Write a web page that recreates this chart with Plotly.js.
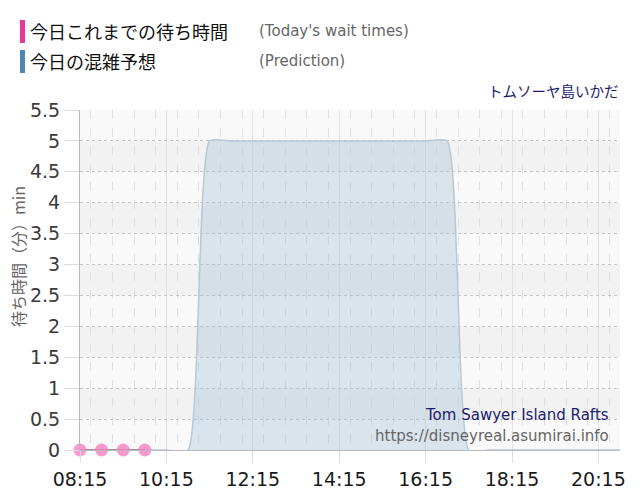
<!DOCTYPE html>
<html>
<head>
<meta charset="utf-8">
<script src="https://cdn.plot.ly/plotly-3.0.1.min.js"></script>
<style>
  html, body { margin: 0; padding: 0; background: #fff; }
  #graph { width: 640px; height: 500px; }
</style>
</head>
<body>
<div id="graph"></div>
<script>
'use strict';

// Data
var day = '2024-01-01 ';
var todayTimes = ['08:15', '08:45', '09:15', '09:45'];
var todayWait = [0, 0, 0, 0];

var predTimes = ['08:15', '08:45', '09:15', '09:45', '10:15', '10:45', '11:15', '11:45',
  '12:15', '12:45', '13:15', '13:45', '14:15', '14:45', '15:15', '15:45', '16:15', '16:45',
  '17:15', '17:45', '18:15', '18:45', '19:15', '19:45', '20:15', '20:45'];
var predWait = [0, 0, 0, 0, 0, 0, 5, 5,
  5, 5, 5, 5, 5, 5, 5, 5, 5, 5,
  0, 0, 0, 0, 0, 0, 0, 0];

var yTicks = [0, 0.5, 1, 1.5, 2, 2.5, 3, 3.5, 4, 4.5, 5, 5.5];

var legendJa = ['今日これまでの待ち時間', '今日の混雑予想'];
var legendEn = ["(Today's wait times)", '(Prediction)'];
var attractionJa = 'トムソーヤ島いかだ';
var attractionEn = 'Tom Sawyer Island Rafts';
var siteUrl = 'https://disneyreal.asumirai.info';
var yTitle = '待ち時間（分）min';

var graph = document.getElementById('graph');

// plot area in pixels
var M = {l: 80, r: 20, t: 110, b: 50};
var W = 640, H = 500;
var pw = W - M.l - M.r, ph = H - M.t - M.b;
function px(x) { return (x - M.l) / pw; }
function py(y) { return (H - M.b - y) / ph; }

function toDates(list) {
  return list.map(function (t) { return day + t; });
}

var jaFont = 'Noto Sans CJK JP, DejaVu Sans, sans-serif';
var enFont = 'DejaVu Sans, Noto Sans CJK JP, sans-serif';

var data = [
  {
    type: 'scatter',
    mode: 'lines',
    x: toDates(predTimes),
    y: predWait,
    line: {shape: 'spline', smoothing: 0.5, color: '#b7c8d6', width: 1.5},
    fill: 'tozeroy',
    fillcolor: 'rgba(150,185,210,0.32)',
    hoverinfo: 'x+y'
  },
  {
    type: 'scatter',
    mode: 'lines+markers',
    x: toDates(todayTimes),
    y: todayWait,
    line: {color: '#a08a96', width: 2},
    marker: {size: 13, color: 'rgba(246,120,188,0.75)'},
    cliponaxis: false,
    hoverinfo: 'x+y'
  }
];

// alternating horizontal bands
var shapes = [];
for (var i = 1; i < yTicks.length - 1; i += 2) {
  shapes.push({
    type: 'rect', layer: 'below', xref: 'paper', yref: 'y',
    x0: 0, x1: 1, y0: yTicks[i], y1: yTicks[i + 1],
    fillcolor: '#f2f2f2', line: {width: 0}
  });
}
// legend colour bars
shapes.push({
  type: 'rect', xref: 'paper', yref: 'paper',
  x0: px(20), x1: px(25), y0: py(43), y1: py(20),
  fillcolor: '#e8389a', line: {width: 0}
});
shapes.push({
  type: 'rect', xref: 'paper', yref: 'paper',
  x0: px(20), x1: px(25), y0: py(73), y1: py(50),
  fillcolor: '#4f86b8', line: {width: 0}
});

function note(text, x, y, xanchor, size, color, family, angle) {
  return {
    text: text, xref: 'paper', yref: 'paper', x: px(x), y: py(y),
    xanchor: xanchor, yanchor: 'middle', showarrow: false,
    textangle: angle || 0,
    font: {size: size, color: color, family: family}
  };
}

var annotations = [
  note(legendJa[0], 28, 31, 'left', 18, '#111', jaFont),
  note(legendJa[1], 28, 61, 'left', 18, '#111', jaFont),
  note(legendEn[0], 257, 31, 'left', 15, '#666', enFont),
  note(legendEn[1], 257, 61, 'left', 15, '#666', enFont),
  note(attractionJa, 621, 90, 'right', 14.5, '#1c1c6e', jaFont),
  note(attractionEn, 611, 415, 'right', 15, '#1c1c6e', enFont),
  note(siteUrl, 611, 436, 'right', 15, '#666', enFont),
  note(yTitle, 18, 257, 'center', 16, '#666', jaFont, -90)
];

var layout = {
  width: W,
  height: H,
  margin: M,
  showlegend: false,
  paper_bgcolor: '#ffffff',
  plot_bgcolor: '#f9f9f9',
  font: {family: enFont},
  hovermode: 'closest',
  xaxis: {
    type: 'date',
    range: [day + predTimes[0], day + predTimes[predTimes.length - 1]],
    tick0: day + '08:15',
    dtick: 7200000,
    tickformat: '%H:%M',
    ticks: 'outside',
    ticklen: 12,
    tickcolor: '#dddddd',
    tickfont: {size: 19, color: '#1a1a1a', family: enFont},
    showgrid: true,
    gridcolor: '#e2e2e2',
    gridwidth: 1,
    minor: {
      dtick: 1800000,
      showgrid: true,
      gridcolor: '#e0e0e0',
      griddash: 'dash',
      ticks: ''
    },
    showline: true,
    linecolor: '#bbbbbb',
    linewidth: 1,
    zeroline: false,
    fixedrange: true
  },
  yaxis: {
    range: [0, 5.5],
    tickvals: yTicks,
    ticktext: yTicks.map(String),
    ticks: 'outside',
    ticklen: 15,
    tickcolor: '#dddddd',
    tickfont: {size: 19, color: '#3a3a3a', family: enFont},
    showgrid: true,
    gridcolor: '#c8c8c8',
    griddash: 'dot',
    showline: true,
    linecolor: '#b8b8c0',
    linewidth: 1,
    zeroline: false,
    fixedrange: true
  },
  shapes: shapes,
  annotations: annotations
};

Plotly.newPlot(graph, data, layout, {displayModeBar: false, staticPlot: true});
</script>
</body>
</html>
